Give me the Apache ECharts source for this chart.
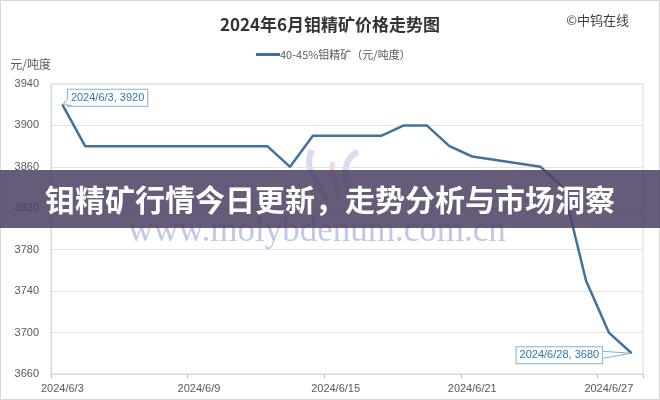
<!DOCTYPE html>
<html>
<head>
<meta charset="utf-8">
<script src="https://cdn.jsdelivr.net/npm/echarts@6/dist/echarts.min.js"></script>
<style>
html,body{margin:0;padding:0;background:#fff;}
#chart{width:660px;height:400px;}
</style>
</head>
<body>
<div id="chart"></div>
<script>
// ---- data ----
var titleText = '2024年6月钼精矿价格走势图';
var sourceText = '©中钨在线';
var seriesName = '40-45%钼精矿（元/吨度）';
var unitText = '元/吨度';
var bannerText = '钼精矿行情今日更新，走势分析与市场洞察';
var watermarkText = 'www.molybdenum.com.cn';
var dates = ['2024/6/3','2024/6/4','2024/6/5','2024/6/6','2024/6/7','2024/6/8','2024/6/9',
  '2024/6/10','2024/6/11','2024/6/12','2024/6/13','2024/6/14','2024/6/15','2024/6/16',
  '2024/6/17','2024/6/18','2024/6/19','2024/6/20','2024/6/21','2024/6/22','2024/6/23',
  '2024/6/24','2024/6/25','2024/6/26','2024/6/27','2024/6/28'];
var prices = [3920,3880,3880,3880,3880,null,null,
  null,3880,3880,3860,3890,null,null,
  3890,3900,3900,3880,3870,null,null,
  3860,3840,3750,3700,3680];
var labeledDates = ['2024/6/3','2024/6/28'];
var yTicks = [3660,3700,3740,3780,3820,3860,3900,3940];

// ---- build ----
var lineColor = '#41719c';
var calloutBorder = '#7fb0d6';
var calloutBase = {
  show: true,
  formatter: function (p) { return p.name + ', ' + p.value; },
  backgroundColor: '#ffffff',
  borderColor: calloutBorder,
  borderWidth: 1,
  padding: [3, 3, 2, 3],
  color: '#2e75b6',
  fontSize: 11,
  fontFamily: 'Liberation Sans'
};
var seriesData = prices.map(function (v, i) {
  var item = { value: v };
  var li = labeledDates.indexOf(dates[i]);
  if (li === 0) {
    item.label = Object.assign({}, calloutBase, { position: 'right', offset: [0, -7] });
  } else if (li === 1) {
    item.label = Object.assign({}, calloutBase, { position: 'left', offset: [-24, 2] });
  }
  return item;
});

var baseGraphics = [
  { type: 'rect', z: -10, silent: true,
    shape: { x: 0.5, y: 0.5, width: 659, height: 399 },
    style: { fill: 'none', stroke: '#d9d9d9', lineWidth: 1 } },
  // watermark logo (approximate)
  { type: 'bezierCurve', z: 0, silent: true,
    shape: { x1: 312, y1: 150, x2: 326, y2: 200, cpx1: 302, cpy1: 170, cpx2: 320, cpy2: 180 },
    style: { stroke: 'rgba(130,120,210,0.28)', lineWidth: 6, fill: 'none' } },
  { type: 'bezierCurve', z: 0, silent: true,
    shape: { x1: 358, y1: 152, x2: 352, y2: 200, cpx1: 340, cpy1: 160, cpx2: 344, cpy2: 182 },
    style: { stroke: 'rgba(130,120,210,0.28)', lineWidth: 6, fill: 'none' } },
  { type: 'bezierCurve', z: 0, silent: true,
    shape: { x1: 333, y1: 162, x2: 338, y2: 196, cpx1: 328, cpy1: 176, cpx2: 340, cpy2: 182 },
    style: { stroke: 'rgba(225,130,120,0.3)', lineWidth: 5, fill: 'none' } },
  { type: 'text', z: 0, silent: true,
    style: { x: 128, y: 249, text: watermarkText, fill: 'rgba(140,140,215,0.5)',
      font: '35px "Liberation Serif"', verticalAlign: 'bottom' } },
  // banner overlay
  { type: 'rect', z: 100, silent: true,
    shape: { x: 0, y: 170, width: 660, height: 58 },
    style: { fill: 'rgba(78,64,100,0.86)' } },
  { type: 'text', z: 101, silent: true,
    style: { x: 330, y: 200, text: bannerText, fill: '#ffffff', align: 'center', verticalAlign: 'middle',
      font: 'bold 30px "Noto Sans CJK SC"' } }
];

var chart = echarts.init(document.getElementById('chart'), null, { renderer: 'canvas' });
chart.setOption({
  animation: false,
  backgroundColor: '#ffffff',
  textStyle: { fontFamily: 'Liberation Sans' },
  title: [{
    text: titleText,
    left: 'center',
    top: 11,
    textStyle: { fontFamily: 'Noto Sans CJK SC', fontSize: 17, fontWeight: 'bold', color: '#333333' }
  }, {
    text: sourceText,
    right: 26,
    top: 9,
    textStyle: { fontFamily: 'Noto Sans CJK SC', fontSize: 13, fontWeight: 'normal', color: '#404040' }
  }],
  legend: {
    left: 251,
    top: 44,
    icon: 'rect',
    itemWidth: 24,
    itemHeight: 3,
    itemGap: 10,
    textStyle: { fontFamily: 'Noto Sans CJK SC', fontSize: 11, color: '#595959', padding: [0, 0, 0, -5] },
    data: [seriesName]
  },
  grid: {
    left: 51, right: 17, top: 84, bottom: 26,
    show: true, borderColor: '#d9d9d9', borderWidth: 1,
    containLabel: false
  },
  xAxis: {
    type: 'category',
    data: dates,
    boundaryGap: true,
    axisLine: { lineStyle: { color: '#d9d9d9' } },
    axisTick: { show: true, interval: 5, length: 4, lineStyle: { color: '#bfbfbf' } },
    axisLabel: { interval: 5, fontSize: 11, color: '#595959', margin: 9, fontFamily: 'Liberation Sans' },
    splitLine: { show: false }
  },
  yAxis: {
    type: 'value',
    min: yTicks[0],
    max: yTicks[yTicks.length - 1],
    interval: yTicks[1] - yTicks[0],
    name: unitText,
    nameLocation: 'end',
    nameGap: 14,
    nameTextStyle: { fontFamily: 'Noto Sans CJK SC', fontSize: 12, color: '#595959', align: 'right' },
    axisLine: { show: true, lineStyle: { color: '#d9d9d9' } },
    axisTick: { show: false },
    axisLabel: { fontSize: 11, color: '#595959', margin: 12, fontFamily: 'Liberation Sans',
      formatter: function (v) { return String(v); } },
    splitLine: { lineStyle: { color: '#e3e3e3' } }
  },
  graphic: baseGraphics,
  series: [{
    name: seriesName,
    type: 'line',
    data: seriesData,
    connectNulls: true,
    symbol: 'circle',
    symbolSize: 1,
    showSymbol: true,
    itemStyle: { color: lineColor },
    lineStyle: { color: lineColor, width: 2.5 },
    z: 5
  }]
});

// callout pointers, positioned from the axis scales
var pointers = [];
labeledDates.forEach(function (d, li) {
  var idx = dates.indexOf(d);
  var p = chart.convertToPixel({ seriesIndex: 0 }, [idx, prices[idx]]);
  var pts;
  if (li === 0) {
    var bl = p[0] + 5.5;
    pts = [[bl, p[1] - 6], [p[0] + 1, p[1] - 1], [bl + 4, p[1] + 1.5]];
  } else {
    var br = p[0] - 28.5;
    pts = [[br, p[1] - 2], [p[0] - 1, p[1]], [br, p[1] + 5]];
  }
  pointers.push({ type: 'polyline', z: 50, silent: true, shape: { points: pts },
    style: { stroke: calloutBorder, lineWidth: 1, fill: '#ffffff' } });
});
chart.setOption({ graphic: baseGraphics.concat(pointers) });
</script>
</body>
</html>
